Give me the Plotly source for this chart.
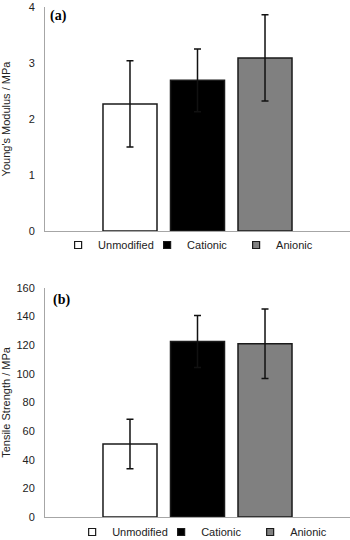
import plotly.graph_objects as go
from plotly.subplots import make_subplots

groups = ["Unmodified", "Cationic", "Anionic"]
fill_colors = ["#ffffff", "#000000", "#808080"]
modulus = [2.27, 2.69, 3.09]
modulus_err = [0.77, 0.56, 0.77]
strength = [51.0, 122.6, 121.0]
strength_err = [17.3, 18.2, 24.3]
category = ["sample"]

fig = make_subplots(rows=2, cols=1, vertical_spacing=0.1)

for row, vals, errs, leg in [(1, modulus, modulus_err, "legend"), (2, strength, strength_err, "legend2")]:
    for i, g in enumerate(groups):
        fig.add_trace(go.Bar(
            x=category, y=[vals[i]], name=g, showlegend=False,
            marker=dict(color=fill_colors[i], line=dict(color="#1a1a1a", width=1.5)),
            error_y=dict(type="data", array=[errs[i]], color="#111111", thickness=1.5, width=3.5),
        ), row=row, col=1)
    for i, g in enumerate(groups):
        fig.add_trace(go.Scatter(
            x=[None], y=[None], mode="markers", name=g, legend=leg, showlegend=True,
            marker=dict(symbol="square", size=7, color=fill_colors[i],
                        line=dict(color="#1a1a1a", width=1.2)),
        ), row=row, col=1)

axis_font = dict(family="Liberation Sans, Arial, sans-serif", size=11, color="#222222")

fig.update_layout(
    width=350, height=540,
    margin=dict(l=45, r=0, t=7, b=8, autoexpand=False),
    paper_bgcolor="white", plot_bgcolor="white",
    barmode="group", bargap=0.336, bargroupgap=0.2,
    font=axis_font,
    legend=dict(orientation="h", x=0.043, xanchor="left", y=0.5467, yanchor="middle",
                font=dict(size=11), itemwidth=30, entrywidth=44, entrywidthmode="pixels",
                traceorder="normal", bgcolor="rgba(0,0,0,0)"),
    legend2=dict(orientation="h", x=0.089, xanchor="left", y=0.0, yanchor="middle",
                 font=dict(size=11), itemwidth=30, entrywidth=44, entrywidthmode="pixels",
                 traceorder="normal", bgcolor="rgba(0,0,0,0)"),
    showlegend=True,
)

fig.update_xaxes(showticklabels=False, ticks="", showgrid=False, zeroline=False,
                 showline=True, linecolor="#a6a6a6", linewidth=1, range=[-0.5, 0.5])
fig.update_yaxes(showgrid=False, zeroline=False, showline=True, linecolor="#a6a6a6",
                 linewidth=1, ticks="", tickfont=axis_font, ticklabelstandoff=7)

fig.update_layout(
    xaxis=dict(domain=[0, 1]), xaxis2=dict(domain=[0, 1]),
    yaxis=dict(domain=[0.5733, 1.0], range=[0, 4], dtick=1,
               title=dict(text="Young's Modulus / MPa", font=dict(size=11), standoff=18)),
    yaxis2=dict(domain=[0.0286, 0.4648], range=[0, 160], dtick=20,
                title=dict(text="Tensile Strength / MPa", font=dict(size=11), standoff=5)),
)

fig.add_annotation(text="<b>(a)</b>", xref="paper", yref="paper", x=0.01, y=0.983,
                   xanchor="left", yanchor="middle", showarrow=False,
                   font=dict(family="Liberation Serif, Times New Roman, serif", size=14, color="#000000"))
fig.add_annotation(text="<b>(b)</b>", xref="paper", yref="paper", x=0.02, y=0.441,
                   xanchor="left", yanchor="middle", showarrow=False,
                   font=dict(family="Liberation Serif, Times New Roman, serif", size=14, color="#000000"))

fig.write_html("out.html", config={"displayModeBar": False},
               post_script="document.body.style.margin='0px';")
